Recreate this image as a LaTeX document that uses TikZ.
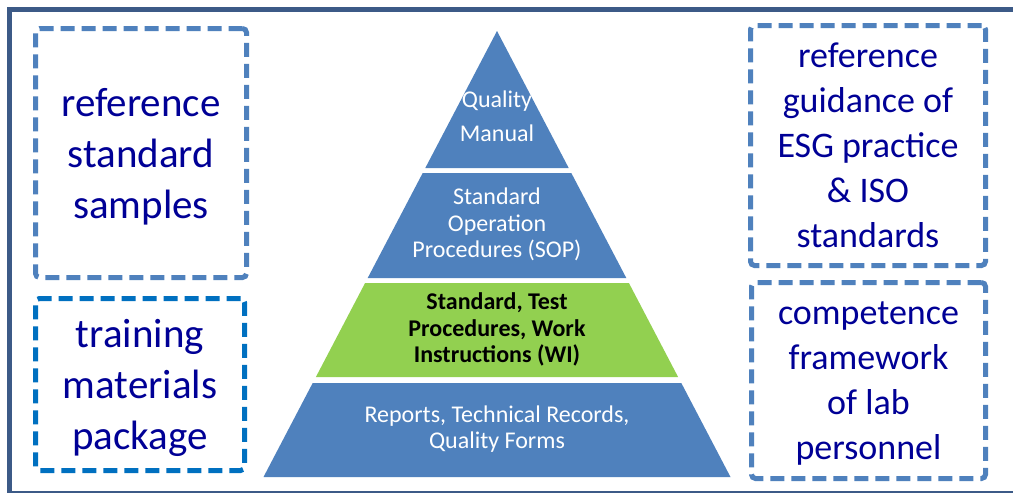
\documentclass[tikz,border=0pt]{standalone}
\usepackage{fontspec}
\setmainfont{Carlito}
\definecolor{frameblue}{RGB}{60,90,135}
\definecolor{pyrblue}{RGB}{79,129,189}
\definecolor{pyrgreen}{RGB}{146,208,80}
\definecolor{boxblue}{RGB}{79,129,189}
\definecolor{boxbright}{RGB}{0,112,192}
\definecolor{navy}{RGB}{0,0,150}
\begin{document}
\begin{tikzpicture}[x=1pt,y=-1pt,
  dbox/.style={draw=boxblue, line width=5pt, dash pattern=on 14pt off 7pt,
    rounded corners=4pt, text=navy, align=center, inner sep=0pt, text depth=0pt},
  bigtext/.style={font=\fontsize{41}{51}\selectfont},
  midtext/.style={font=\fontsize{36}{45}\selectfont},
  ltext/.style={text=white, align=center, inner sep=0pt,
    font=\fontsize{24}{26.5}\selectfont}]
\clip (0,0) rectangle (1013,493);
\fill[white] (0,0) rectangle (1013,493);
\draw[frameblue, line width=5pt] (9.5,9.5) rectangle (1030,493);
% side boxes
\node[dbox, bigtext, minimum width=211pt, minimum height=249pt] (samples) at (141,153)
  {reference\\standard\\samples};
\node[dbox, bigtext, draw=boxbright, minimum width=209pt, minimum height=172pt] (training) at (140,384.5)
  {training\\materials\\package};
\node[dbox, midtext, minimum width=235pt, minimum height=240pt] (guidance) at (868,145.5)
  {reference\\guidance of\\ESG practice\\\& ISO\\standards};
\node[dbox, midtext, minimum width=234pt, minimum height=196pt] (competence) at (868.5,380.5)
  {competence\\framework\\of lab\\personnel};
% pyramid
\fill[pyrblue] (497,31) -- (568.7,168) -- (425.3,168) -- cycle;
\fill[pyrblue] (422.7,173) -- (571.3,173) -- (626.3,278) -- (367.7,278) -- cycle;
\fill[pyrgreen] (365.1,283) -- (628.9,283) -- (678.1,377) -- (315.9,377) -- cycle;
\fill[pyrblue] (312.7,383) -- (681.3,383) -- (730.5,477) -- (263.5,477) -- cycle;
\node[ltext, font=\fontsize{24}{34}\selectfont] (qm) at (497,116.5) {Quality\\Manual};
\node[ltext] (sop) at (497,224.5) {Standard\\Operation\\Procedures (SOP)};
\node[ltext, text=black, font=\fontsize{24}{26.5}\selectfont\bfseries] (wi) at (497,329.5)
  {Standard, Test\\Procedures, Work\\Instructions (WI)};
\node[ltext] (rec) at (497,429) {Reports, Technical Records,\\Quality Forms};
\end{tikzpicture}
\end{document}
